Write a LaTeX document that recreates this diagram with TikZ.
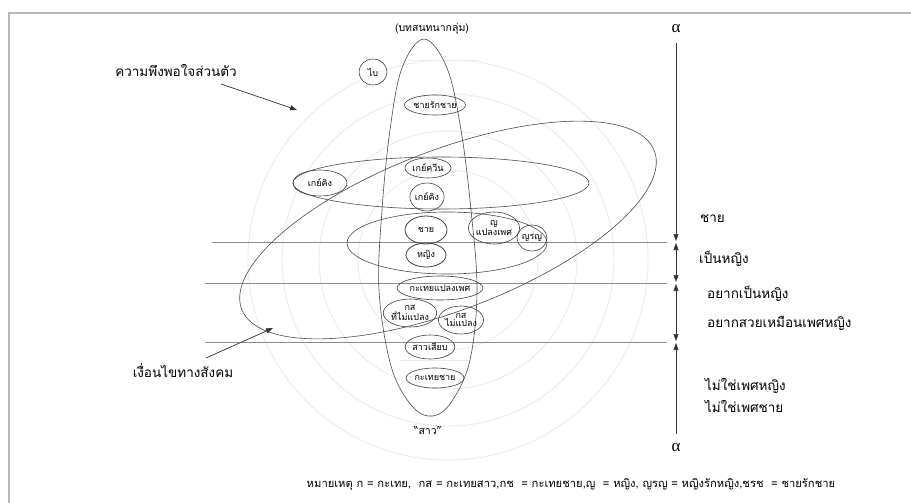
\documentclass[tikz,border=0pt]{standalone}
\usepackage{fontspec}
\newfontfamily\thai[Script=Thai]{Loma}
\newfontfamily\grk{Liberation Serif}
\usetikzlibrary{shapes.geometric,arrows.meta}
\begin{document}
\begin{tikzpicture}[x=1pt,y=-1pt,
  lab/.style={font=\thai\fontsize{9}{8.5}\selectfont, inner sep=0pt, align=center},
  oval/.style={draw=black!75, ellipse, inner sep=0pt, line width=0.6pt, lab},
  big/.style={draw=black!70, line width=0.6pt},
  faint/.style={draw=black!8, line width=0.9pt},
  side/.style={font=\thai\fontsize{13.5}{14}\selectfont, anchor=west, inner sep=0pt},
  hline/.style={draw=black!45, line width=0.6pt},
  tipd/.style={black!80, line width=0.6pt},
  ar/.style={draw=black!80, line width=0.7pt, -{Triangle[length=7pt,width=5pt]}}
]
\useasboundingbox (0,0) rectangle (911,503);
\fill[white] (0,0) rectangle (911,503);
% frame
\draw[black!28, line width=2pt] (9,503) -- (9,13) -- (911,13);
% faint background circles
\foreach \r in {90,129,166,200} \draw[faint] (448,260) circle [radius=\r pt];
\draw[faint] (400,60) -- (480,60);
\draw[faint] (400,360) -- (471,360);
% horizontal level lines
\draw[hline] (212,242) -- (667,242);
\draw[hline] (205,283) -- (667,283);
\draw[hline] (205,342) -- (667,342);
% big shapes
\draw[big, rotate around={21:(448,230)}] (448,230) ellipse [x radius=221pt, y radius=80pt];
\draw[big] (441,183) ellipse [x radius=148pt, y radius=26pt];
\draw[big] (447,243) ellipse [x radius=100pt, y radius=31pt];
\draw[big] plot[smooth cycle, tension=0.6] coordinates {(424,39) (447,68) (461,130) (471,210) (477,290) (470,360) (452,401) (433,416) (412,406) (391,366) (379,290) (382,210) (390,130) (402,68)};
% labelled ovals
\node[oval, minimum width=28pt, minimum height=26pt] (bi) at (373,72) {ไบ};
\node[oval, minimum width=56pt, minimum height=20pt] (mm) at (435,105) {ชายรักชาย};
\node[oval, minimum width=54pt, minimum height=26pt] (gkL) at (320,183) {เกย์คิง};
\node[oval, minimum width=46pt, minimum height=20pt] (gq) at (428,168) {เกย์ควีน};
\node[oval, minimum width=30pt, minimum height=28pt] (gk) at (427,197) {เกย์คิง};
\node[oval, minimum width=42pt, minimum height=28pt, line width=0.8pt] (man) at (426,230) {ชาย};
\node[oval, minimum width=40pt, minimum height=24pt, line width=0.8pt] (woman) at (426,255) {หญิง};
\node[oval, minimum width=44pt, minimum height=32pt] (wt) at (494,228) {ญ\\แปลงเพศ};
\node[oval, minimum width=30pt, minimum height=26pt] (ll) at (532,238) {ญรญ};
\node[oval, minimum width=76pt, minimum height=24pt] (kt) at (440,288) {กะเทยแปลงเพศ};
\node[oval, minimum width=50pt, minimum height=28pt] (ks1) at (410,313) {กส\\ที่ไม่แปลง};
\node[oval, minimum width=40pt, minimum height=28pt] (ks2) at (461,320) {กส\\ไม่แปลง};
\node[oval, minimum width=42pt, minimum height=24pt] (sb) at (430,347) {สาวเสียบ};
\node[oval, minimum width=50pt, minimum height=20pt] (kc) at (435,378) {กะเทยชาย};
% free labels
\node[lab, font=\thai\fontsize{10.5}{11}\selectfont] (topl) at (432,29) {(บทสนทนากลุ่ม)};
\node[lab, font=\thai\fontsize{10.5}{11}\selectfont] (botl) at (428,431) {“สาว”};
\node[lab, font=\thai\fontsize{13.5}{14}\selectfont] (pers) at (176,70) {ความพึงพอใจส่วนตัว};
\node[lab, font=\thai\fontsize{13.5}{14}\selectfont] (soc) at (183,371) {เงื่อนไขทางสังคม};
\coordinate (p1s) at (221,84);
\coordinate (p1e) at (297,110);
\coordinate (p2s) at (206,358);
\coordinate (p2e) at (273,328);
\draw[ar] (p1s) -- (p1e);
\draw[ar] (p2s) -- (p2e);
% right axis
\node[inner sep=0pt, font=\grk\fontsize{17}{17}\selectfont] (alt) at (676,29) {α};
\node[inner sep=0pt, font=\grk\fontsize{17}{17}\selectfont] (alb) at (676,448) {α};
\coordinate (ax0) at (676,43);
\coordinate (b1u) at (676,241);
\coordinate (b1d) at (676,243);
\coordinate (b2u) at (676,282);
\coordinate (b2d) at (676,284);
\coordinate (b3u) at (676,341);
\coordinate (b3d) at (676,343);
\coordinate (ax1) at (676,434);
\draw[tipd, -{Triangle[length=7pt,width=5pt]}] (ax0) -- (b1u);
\draw[tipd, {Triangle[length=7pt,width=5pt]}-{Triangle[length=7pt,width=5pt]}] (b1d) -- (b2u);
\draw[tipd, {Triangle[length=7pt,width=5pt]}-{Triangle[length=7pt,width=5pt]}] (b2d) -- (b3u);
\draw[tipd, {Triangle[length=7pt,width=5pt]}-] (b3d) -- (ax1);
\node[side] (s1) at (700,219) {ชาย};
\node[side] (s2) at (699,259) {เป็นหญิง};
\node[side] (s3) at (707,294) {อยากเป็นหญิง};
\node[side] (s4) at (707,323) {อยากสวยเหมือนเพศหญิง};
\node[side] (s5) at (705,386) {ไม่ใช่เพศหญิง};
\node[side] (s6) at (705,406) {ไม่ใช่เพศชาย};
% legend
\node[lab, font=\thai\fontsize{11.2}{12}\selectfont] (leg) at (571,484) {หมายเหตุ ก = กะเทย,\ \ กส = กะเทยสาว,กช\ \ = กะเทยชาย,ญ\ \ = หญิง, ญรญ = หญิงรักหญิง,ชรช\ \ = ชายรักชาย};
\end{tikzpicture}
\end{document}
